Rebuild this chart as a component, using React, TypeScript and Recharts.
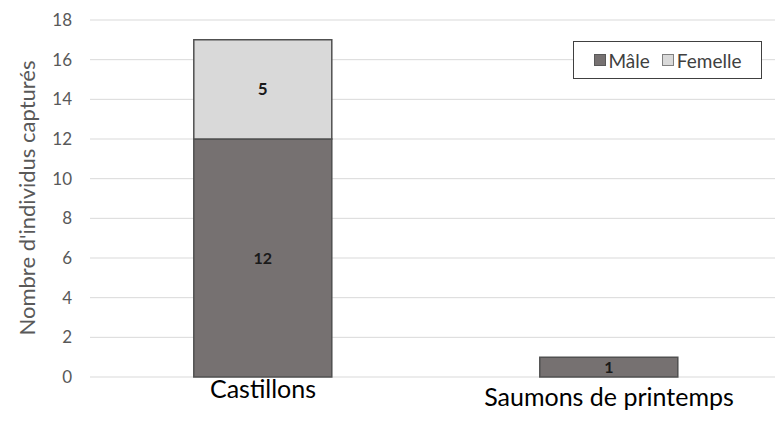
import React from 'react';
import {
  BarChart,
  Bar,
  XAxis,
  YAxis,
  CartesianGrid,
  Legend,
  LabelList,
  Label,
} from 'recharts';

const categories = ['Castillons', 'Saumons de printemps'];
const maleCounts = [12, 1];
const femaleCounts = [5, null];
const yTicks = [0, 2, 4, 6, 8, 10, 12, 14, 16, 18];

const data = categories.map((name, i) => ({
  name,
  male: maleCounts[i],
  female: femaleCounts[i],
}));

const FONT = 'Lato, "Noto Sans", sans-serif';
const MALE = '#767171';
const FEMALE = '#D9D9D9';

const LegendBox = () => (
  <div
    style={{
      width: 189,
      height: 38,
      border: '1.5px solid #404040',
      background: '#fff',
      boxSizing: 'border-box',
      display: 'flex',
      alignItems: 'center',
      justifyContent: 'center',
      fontFamily: FONT,
      fontSize: 19,
      color: '#404040',
      gap: 12,
    }}
  >
    <span style={{ display: 'flex', alignItems: 'center' }}>
      <span style={{ width: 10, height: 10, background: MALE, border: '1px solid #595959', marginRight: 3 }} />
      Mâle
    </span>
    <span style={{ display: 'flex', alignItems: 'center' }}>
      <span style={{ width: 10, height: 10, background: FEMALE, border: '1px solid #808080', marginRight: 3 }} />
      Femelle
    </span>
  </div>
);

// Excel drops the long second label a little lower than the first one
const CategoryTick = (props: any) => {
  const { x, y, payload, index } = props;
  const shift = index === 1 ? 29 : 21;
  return (
    <text x={x} y={y + shift} textAnchor="middle" fontSize={25} fill="#000" fontFamily={FONT}>
      {payload.value}
    </text>
  );
};

export default function App() {
  return (
    <div style={{ position: 'absolute', left: 0, top: 0, width: 775, height: 421, overflow: 'hidden', background: '#fff' }}>
      <BarChart
        width={790}
        height={421}
        data={data}
        margin={{ top: 20, right: 8, left: 0, bottom: 0 }}
        barCategoryGap="30%"
      >
        <CartesianGrid vertical={false} stroke="#d9d9d9" />
        <XAxis
          dataKey="name"
          height={44}
          axisLine={false}
          tickLine={false}
          tickSize={0}
          tickMargin={0}
          interval={0}
          tick={<CategoryTick />}
        />
        <YAxis
          width={90}
          domain={[0, 18]}
          ticks={yTicks}
          axisLine={false}
          tickLine={false}
          tickSize={0}
          tickMargin={18}
          tick={{ fontSize: 17, fill: '#595959', fontFamily: FONT }}
        >
          <Label
            content={() => (
              <text
                x={26}
                y={198}
                transform="rotate(-90 26 198)"
                textAnchor="middle"
                dominantBaseline="central"
                fontSize={22}
                fill="#595959"
                fontFamily={FONT}
              >
                Nombre d'individus capturés
              </text>
            )}
          />
        </YAxis>
        <Legend
          verticalAlign="middle"
          align="center"
          wrapperStyle={{ position: 'absolute', left: 573, top: 41, width: 189 }}
          content={() => <LegendBox />}
        />
        <Bar dataKey="male" stackId="a" fill={MALE} stroke="#505050" strokeWidth={1.5} isAnimationActive={false}>
          <LabelList dataKey="male" position="center" fill="#1a1a1a" fontSize={16} fontWeight="bold" fontFamily={FONT} />
        </Bar>
        <Bar dataKey="female" stackId="a" fill={FEMALE} stroke="#505050" strokeWidth={1.5} isAnimationActive={false}>
          <LabelList dataKey="female" position="center" fill="#1a1a1a" fontSize={17} fontWeight="bold" fontFamily={FONT} />
        </Bar>
      </BarChart>
    </div>
  );
}
